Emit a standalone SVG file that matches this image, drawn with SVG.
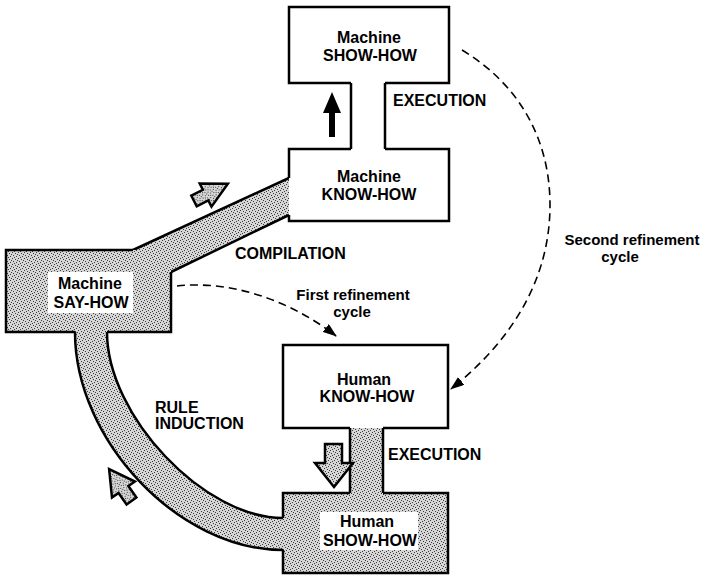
<svg xmlns="http://www.w3.org/2000/svg" width="702" height="577" viewBox="0 0 702 577">
<style>
.edge{fill:none;stroke:#000;stroke-width:2.5;stroke-linejoin:miter}
.st{fill:url(#stipple);stroke:none}
.wh{fill:#fff;stroke:none}
.t{font-family:"Liberation Sans",Arial,sans-serif;font-weight:bold;font-size:16px;fill:#000}
.c{text-anchor:middle}
.small{font-size:15px}
.dash{fill:none;stroke:#000;stroke-width:1.6;stroke-dasharray:8 5}
.garrow{fill:url(#stipple);stroke:#000;stroke-width:2.5;stroke-linejoin:miter}
</style>
<defs>
<pattern id="stipple" patternUnits="userSpaceOnUse" width="6" height="6">
<rect width="6" height="6" fill="#d6d6d6"/>
<rect x="0" y="0" width="1" height="1" fill="#3a3a3a"/>
<rect x="3" y="1" width="1" height="1" fill="#3a3a3a"/>
<rect x="1" y="3" width="1" height="1" fill="#3a3a3a"/>
<rect x="4" y="4" width="1" height="1" fill="#3a3a3a"/>
<rect x="5" y="2" width="1" height="1" fill="#3a3a3a"/>
<rect x="2" y="5" width="1" height="1" fill="#3a3a3a"/>
</pattern>
<marker id="ah" viewBox="0 0 14 10" refX="13" refY="5" markerWidth="14" markerHeight="10" markerUnits="userSpaceOnUse" orient="auto">
<path d="M0,0 L14,5 L0,10 Z" fill="#000"/>
</marker>
</defs>
<rect width="702" height="577" fill="#fff"/>

<g id="connectors">
<g id="compilation-band">
<polygon class="st" points="133,250 289,178 289,215 171,272 133,272"/>
<path class="edge" d="M133,250 L289,178 M171,272 L289,215"/>
</g>
<g id="rule-induction-band">
<path class="st" d="M75,326 L75,332 C75,441 179,550 283,550 L290,550 L290,518 L283,518 C204,518 107,416 107,332 L107,326 Z"/>
<path class="edge" d="M75,332 C75,441 179,550 283,550 M107,332 C107,416 204,518 283,518"/>
</g>
<g id="human-execution">
<rect class="st" x="350" y="424" width="33" height="72"/>
<path class="edge" d="M350,428 L350,493 M383,428 L383,493"/>
</g>
<g id="machine-execution">
<path class="edge" d="M351,83 L351,149 M385,83 L385,149"/>
</g>
<path class="dash" d="M177,286 C230,280 290,300 336,336" marker-end="url(#ah)"/>
<path class="dash" d="M462,50 C520,85 550,140 550,205 C550,290 500,350 451,389" marker-end="url(#ah)"/>
<path d="M329,137 L335,137 L335,113 L341,113 L332,92 L323,113 L329,113 Z" fill="#000"/>
<path class="garrow" transform="translate(194,201) rotate(-27)" d="M0,-6 L13,-6 L13,-13 L38,0 L13,13 L13,6 L0,6 Z"/>
<path class="garrow" transform="translate(131.5,501) rotate(-125)" d="M0,-6 L14,-6 L14,-14 L39,0 L14,14 L14,6 L0,6 Z"/>
<path class="garrow" d="M325,444 L342,444 L342,463 L353,463 L334,487 L315,463 L325,463 Z"/>
<text class="t" x="393" y="106">EXECUTION</text>
<text class="t" x="235" y="259">COMPILATION</text>
<text class="t" x="155" y="413">RULE</text>
<text class="t" x="155" y="429">INDUCTION</text>
<text class="t" x="388" y="460">EXECUTION</text>
<text class="t small c" x="353" y="300">First refinement</text>
<text class="t small c" x="352" y="317">cycle</text>
<text class="t small c" x="632" y="245">Second refinement</text>
<text class="t small c" x="620" y="262">cycle</text>
</g>

<g id="node-machine-show-how">
<rect class="wh" x="289" y="7" width="160" height="76"/>
<path class="edge" d="M351,83 L289,83 L289,7 L449,7 L449,83 L385,83"/>
<text class="t c" x="369" y="43">Machine</text>
<text class="t c" x="370" y="61">SHOW-HOW</text>
</g>

<g id="node-machine-know-how">
<rect class="wh" x="289" y="149" width="160" height="72"/>
<path class="edge" d="M351,149 L289,149 L289,178 M289,215 L289,221 L449,221 L449,149 L385,149"/>
<text class="t c" x="369" y="182">Machine</text>
<text class="t c" x="369" y="200">KNOW-HOW</text>
</g>

<g id="node-machine-say-how">
<rect class="st" x="6" y="250" width="165" height="82"/>
<path class="edge" d="M133,250 L6,250 L6,332 L75,332 M107,332 L171,332 L171,272"/>
<rect class="wh" x="48" y="272" width="85" height="41"/>
<text class="t c" x="90" y="289">Machine</text>
<text class="t c" x="91" y="308">SAY-HOW</text>
</g>

<g id="node-human-know-how">
<rect class="wh" x="283" y="345" width="165" height="83"/>
<path class="edge" d="M350,428 L283,428 L283,345 L448,345 L448,428 L383,428"/>
<text class="t c" x="364" y="385">Human</text>
<text class="t c" x="367" y="402">KNOW-HOW</text>
</g>

<g id="node-human-show-how">
<rect class="st" x="283" y="493" width="165" height="80"/>
<path class="edge" d="M283,518 L283,493 L350,493 M383,493 L448,493 L448,573 L283,573 L283,550"/>
<rect class="wh" x="320" y="512" width="98" height="38"/>
<text class="t c" x="367" y="527">Human</text>
<text class="t c" x="370" y="546">SHOW-HOW</text>
</g>
</svg>
